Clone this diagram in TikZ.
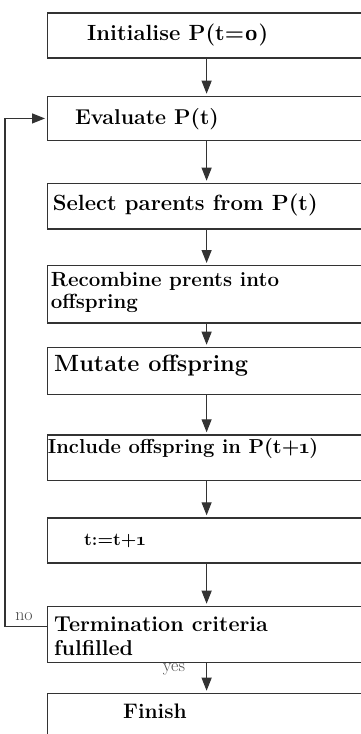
\RequirePackage{fix-cm}
\documentclass[tikz,border=0pt]{standalone}
\usetikzlibrary{arrows.meta}
\makeatletter
\newcommand\osfdigit[1]{{\font\osfbold="[lmroman10-bold]:+onum" at \f@size pt\osfbold #1}}
\makeatother

\begin{document}
\begin{tikzpicture}
[x=1pt,y=-1pt,
  stepbox/.style={shape=rectangle,draw=black!80,line width=1.2pt,anchor=north west,
    minimum width=319pt,inner sep=0pt},%
  steptext/.style={anchor=base west,inner sep=0pt,align=left},%
  flowline/.style={draw=black!80,line width=1.2pt,-{Triangle[width=10pt,length=13pt]},shorten >=2pt},%
  answer/.style={inner sep=0pt,text=black!70,font=\fontsize{18}{21}\selectfont}]
\useasboundingbox (0,0) rectangle (360,734);
%% boxes
\foreach \boxname/\boxtop/\boxht in {b1/12.3/45, b2/95.7/44.3, b3/182.7/45.6, b4/265/57.3,
  b5/346.7/47.3, b6/434.3/45.7, b7/517.3/45, b8/605.7/56, b9/692.7/60} {
  \node (\boxname) at (46.5,\boxtop) [stepbox,minimum height=\boxht pt] {};
}
%% texts in the boxes (y is the baseline of the last line)
\foreach \textname/\x/\y/\fsize/\lskip/\txt in {
  t1/87/40.7/22/26/{Initialise P(t=\osfdigit{0})},
  t2/75/124/21.4/26/{Evaluate P(t)},
  t3/52.7/210/22/26/{Select parents from P(t)},
  t4/50.7/308.3/20.5/21.6/{Recombine prents into\\offspring},
  t5/54/371.7/23.5/28/{\fontseries{b}\selectfont Mutate offspring},
  t6/47.7/453.3/20.2/24/{Include offspring in P(t+\osfdigit{1})},
  t7/84/545/17.8/21/{t:=t+\osfdigit{1}},
  t8/54/655/21.5/23.3/{Termination criteria\\fulfilled},
  t9/123/718/21/26/{Finish}} {
  \node (\textname) at (\x,\y) [steptext,font=\fontsize{\fsize}{\lskip}\selectfont\bfseries] {\txt};
}
%% arrows
\path
\foreach \startnode/\endnode in {b1/b2, b2/b3, b3/b4, b4/b5, b5/b6, b6/b7, b7/b8, b8/b9}
{
  (\startnode.south) edge[flowline] (\endnode.north)
};
\coordinate (loop) at (5,400);
\draw[flowline,shorten >=1.5pt] ([yshift=-21pt]b8.north west) -| (loop) |- (b2.west);
%% answers
\node (no) at (24,616.5) [answer] {no};
\node (yes) at (174,669.5) [answer] {yes};
\end{tikzpicture}
\end{document}
